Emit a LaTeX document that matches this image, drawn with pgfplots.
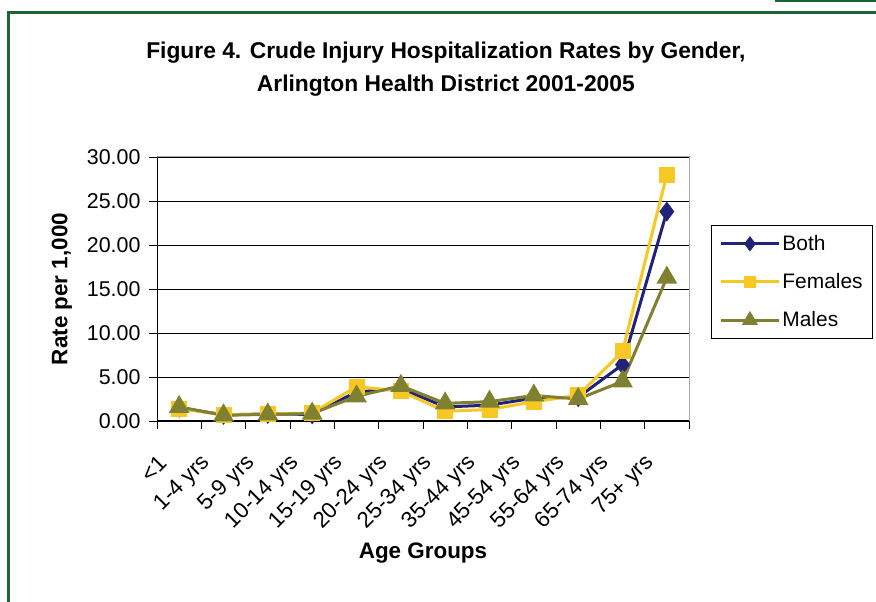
\documentclass[border=0pt]{standalone}
\usepackage{pgfplots}
\pgfplotsset{compat=1.18}
\usepackage{fontspec}
\setmainfont{Liberation Sans}
\definecolor{both}{RGB}{34,34,120}
\definecolor{fem}{RGB}{247,200,35}
\definecolor{male}{RGB}{128,128,50}
\definecolor{frame}{RGB}{30,100,55}
\begin{document}
\begin{tikzpicture}[x=1bp,y=1bp]
\useasboundingbox (0,0) rectangle (876,602);
\fill[white] (0,0) rectangle (876,602);
\draw[frame, line width=3bp] (8,0) -- (8,589) -- (876,589);
\draw[frame, line width=2bp] (775,601) -- (876,601);
\begin{axis}[
  at={(157bp,181bp)}, anchor=south west,
  scale only axis, width=532bp, height=264bp,
  xmin=-0.5, xmax=11.5, ymin=0, ymax=30,
  clip=false,
  axis line style={draw=gray!70, line width=1bp},
  xtick pos=lower, ytick pos=left,
  xtick={-0.5,0.5,...,11.5}, xticklabels={},
  extra x ticks={0,1,...,11},
  extra x tick labels={{<1},{1-4 yrs},{5-9 yrs},{10-14 yrs},{15-19 yrs},{20-24 yrs},{25-34 yrs},{35-44 yrs},{45-54 yrs},{55-64 yrs},{65-74 yrs},{75+ yrs}},
  extra x tick style={major tick length=0pt, xticklabel style={xshift=-14bp, yshift=-36bp, rotate=45, anchor=east, font=\fontsize{22.5}{22.5}\selectfont}},
  ytick={0,5,...,30},
  yticklabel style={xshift=-5bp, /pgf/number format/.cd, fixed, fixed zerofill, precision=2},
  /pgf/number format/assume math mode=true,
  tick label style={font=\fontsize{21.5}{21.5}\selectfont},
  tick align=outside, major tick length=8bp,
  tick style={black, line width=0.8bp},
  ymajorgrids, grid style={black, line width=0.8bp},
  xlabel={Age Groups},
  xlabel style={at={(axis description cs:0.5,-0.5)}, anchor=center, font=\bfseries\fontsize{22.5}{22.5}\selectfont},
  ylabel={Rate per 1,000},
  ylabel style={at={(axis description cs:-0.1786,0.5)}, anchor=center, rotate=0, font=\bfseries\fontsize{22.5}{22.5}\selectfont},
  title={Figure 4. Crude Injury Hospitalization Rates by Gender,\\Arlington Health District 2001-2005},
  title style={at={(axis description cs:0.543,1.31)}, anchor=center, align=center, font=\bfseries\fontsize{22.9}{33}\selectfont},
  legend style={at={(axis description cs:1.0414,0.742)}, anchor=north west, draw=black, line width=0.8bp, font=\fontsize{21}{21}\selectfont, row sep=17.5bp, inner sep=8bp},
  legend cell align=left,
  legend image code/.code={\draw[#1, mark repeat=2, mark phase=2, every mark/.append style={scale=0.7}] plot coordinates {(0bp,0bp) (29bp,0bp) (58bp,0bp)};},
]
\addplot[both, line width=3bp, mark=diamond*, mark size=7.5bp, mark options={solid}] coordinates {
(0,1.5) (1,0.7) (2,0.8) (3,0.75) (4,3.3) (5,3.7) (6,1.6) (7,1.8) (8,2.6) (9,2.7) (10,6.4) (11,23.8)};
\addlegendentry{Both}
\addplot[fem, line width=3bp, mark=square*, mark size=6.5bp] coordinates {
(0,1.4) (1,0.7) (2,0.8) (3,0.9) (4,3.9) (5,3.4) (6,1.1) (7,1.3) (8,2.2) (9,2.9) (10,7.9) (11,28.0)};
\addlegendentry{Females}
\addplot[male, line width=3bp, mark=triangle*, mark size=9bp] coordinates {
(0,1.6) (1,0.65) (2,0.75) (3,0.85) (4,2.8) (5,4.0) (6,2.0) (7,2.2) (8,2.9) (9,2.5) (10,4.5) (11,16.3)};
\addlegendentry{Males}
\draw[black, line width=1bp] (rel axis cs:0,1) -- (rel axis cs:0,0) -- (rel axis cs:1,0);
\end{axis}
\end{tikzpicture}
\end{document}
